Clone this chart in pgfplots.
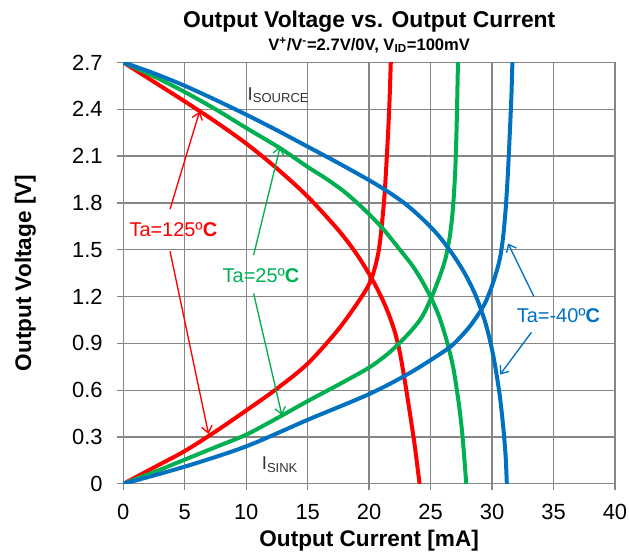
\documentclass[border=0pt]{standalone}
\usepackage{pgfplots}
\pgfplotsset{compat=1.18}
\usepackage{fontspec}
\setmainfont{Liberation Sans}
\usetikzlibrary{arrows.meta}
\definecolor{cred}{RGB}{255,0,0}
\definecolor{cgreen}{RGB}{0,176,80}
\definecolor{cblue}{RGB}{0,112,192}
\definecolor{gridgray}{RGB}{134,134,134}
\definecolor{lblgray}{RGB}{50,50,50}

\pgfplotstableread{
x y
0 2.7
2.5 2.575
5 2.45
7.5 2.32
10 2.18
12.5 2.02
15 1.84
17.5 1.625
19 1.47
20.2 1.317
21 1.195
21.6 1.085
22.1 0.97
22.5 0.84
22.9 0.66
23.3 0.46
23.7 0.25
24.1 0
}\redsource
\pgfplotstableread{
x y
0 0
2.5 0.105
5 0.21
7.5 0.335
10 0.47
12.5 0.61
15 0.77
17.5 0.99
19.4 1.2
20.2 1.317
20.79 1.5
21.2 1.8
21.44 2.1
21.63 2.4
21.76 2.7
21.8 2.8
}\redsink
\pgfplotstableread{
x y
0 2.7
2.5 2.61
5 2.51
7.5 2.40
10 2.28
12.76 2.15
15 2.03
16.5 1.955
18 1.87
19.5 1.765
21 1.645
22.5 1.50
23.5 1.40
24.3 1.30
25.1 1.18
25.7 1.07
26.3 0.92
26.8 0.76
27.1 0.62
27.35 0.48
27.6 0.30
27.9 0
}\greensource
\pgfplotstableread{
x y
0 0
2.5 0.075
5 0.155
7.5 0.235
10 0.315
12.5 0.42
15 0.53
17.5 0.635
20 0.745
21.7 0.845
23.3 0.97
24.3 1.07
25.07 1.195
25.7 1.32
26.2 1.44
26.55 1.58
26.8 1.75
27.0 2.0
27.12 2.3
27.2 2.6
27.25 2.8
}\greensink
\pgfplotstableread{
x y
0 2.7
2.5 2.63
5 2.55
7.5 2.46
10 2.365
12.5 2.265
15 2.16
17.5 2.055
20 1.945
21.5 1.873
23 1.79
24.5 1.685
25.7 1.585
26.8 1.47
27.8 1.345
28.7 1.2
29.5 1.02
30.1 0.82
30.6 0.58
30.9 0.37
31.1 0.18
31.2 0
}\bluesource
\pgfplotstableread{
x y
0 0
5 0.11
10 0.24
15 0.41
20 0.575
23.3 0.71
26.3 0.86
27.3 0.93
28.2 1.01
29.0 1.10
29.5 1.17
30.0 1.27
30.4 1.37
30.65 1.45
30.85 1.55
31.0 1.66
31.15 1.81
31.3 2.01
31.45 2.26
31.57 2.48
31.67 2.75
}\bluesink

\begin{document}
\begin{tikzpicture}
\useasboundingbox (-92.5bp,-54.9bp) rectangle (379.3bp,362.9bp);
\begin{axis}[
  name=ax,
  at={(0,0)}, anchor=south west,
  scale only axis, width=368.8bp, height=316.1bp,
  xmin=0, xmax=40, ymin=0, ymax=2.7,
  xtick={0,5,10,15,20,25,30,35,40},
  ytick={0,0.3,0.6,0.9,1.2,1.5,1.8,2.1,2.4,2.7},
  yticklabels={0,0.3,0.6,0.9,1.2,1.5,1.8,2.1,2.4,2.7},
  grid=major,
  major grid style={gridgray, line width=1bp},
  axis line style={gridgray, line width=1bp},
  tick style={gridgray, line width=1bp},
  tick align=outside, tick pos=left, major tick length=5bp,
  ticklabel style={font=\fontsize{16.5}{16.5}\selectfont, text=black},
  xticklabel style={yshift=-7bp},
  yticklabel style={xshift=-7bp},
  /pgf/number format/assume math mode=true,
  xlabel={Output Current [mA]},
  ylabel={Output Voltage [V]},
  label style={font=\bfseries\fontsize{17}{17}\selectfont},
  xlabel style={at={(axis description cs:0.5,0)}, anchor=center, yshift=-43bp},
  ylabel style={at={(axis description cs:-0.1993,0.5)}, anchor=center},
  clip=true,
  every axis plot/.append style={line width=3bp, smooth},
]
\addplot[cred] table {\redsource};
\addplot[cred] table {\redsink};
\addplot[cgreen] table {\greensource};
\addplot[cgreen] table {\greensink};
\addplot[cblue] table {\bluesource};
\addplot[cblue] table {\bluesink};

% annotations
\draw[cred, line width=1bp, -{Straight Barb[length=5bp,width=8bp]}] (axis cs:3.8,1.76) -- (axis cs:6.2,2.385);
\draw[cred, line width=1bp, -{Straight Barb[length=5bp,width=8bp]}] (axis cs:3.8,1.49) -- (axis cs:6.93,0.32);
\node[text=cred, font=\fontsize{15}{15}\selectfont] at (axis cs:4.07,1.626) {Ta=125º\textbf{C}};

\draw[cgreen, line width=1bp, -{Straight Barb[length=5bp,width=8bp]}] (axis cs:10.6,1.466) -- (axis cs:12.76,2.16);
\draw[cgreen, line width=1bp, -{Straight Barb[length=5bp,width=8bp]}] (axis cs:10.6,1.22) -- (axis cs:12.9,0.44);
\node[text=cgreen, font=\fontsize{15}{15}\selectfont] at (axis cs:11.2,1.337) {Ta=25º\textbf{C}};

\draw[cblue, line width=1bp, -{Straight Barb[length=5bp,width=8bp]}] (axis cs:33.4,1.2) -- (axis cs:31.3,1.54);
\draw[cblue, line width=1bp, -{Straight Barb[length=5bp,width=8bp]}] (axis cs:33.2,0.97) -- (axis cs:30.65,0.70);
\node[text=cblue, font=\fontsize{15}{15}\selectfont] at (axis cs:35.4,1.08) {Ta=-40º\textbf{C}};

\node[text=lblgray, anchor=west, inner sep=0pt, font=\fontsize{14}{14}\selectfont] at (axis cs:10.1,2.49) {I\textsubscript{SOURCE}};
\node[text=lblgray, anchor=west, inner sep=0pt, font=\fontsize{14}{14}\selectfont] at (axis cs:11.25,0.12) {I\textsubscript{SINK}};
\end{axis}
\node[anchor=base, font=\bfseries\fontsize{17.2}{17}\selectfont] at ([yshift=26bp]ax.north) {Output Voltage vs. Output Current};
\node[anchor=base, font=\bfseries\fontsize{12.5}{12}\selectfont] at ([yshift=9bp]ax.north) {V\textsuperscript{+}/V\textsuperscript{-}=2.7V/0V, V\textsubscript{ID}=100mV};
\end{tikzpicture}
\end{document}
